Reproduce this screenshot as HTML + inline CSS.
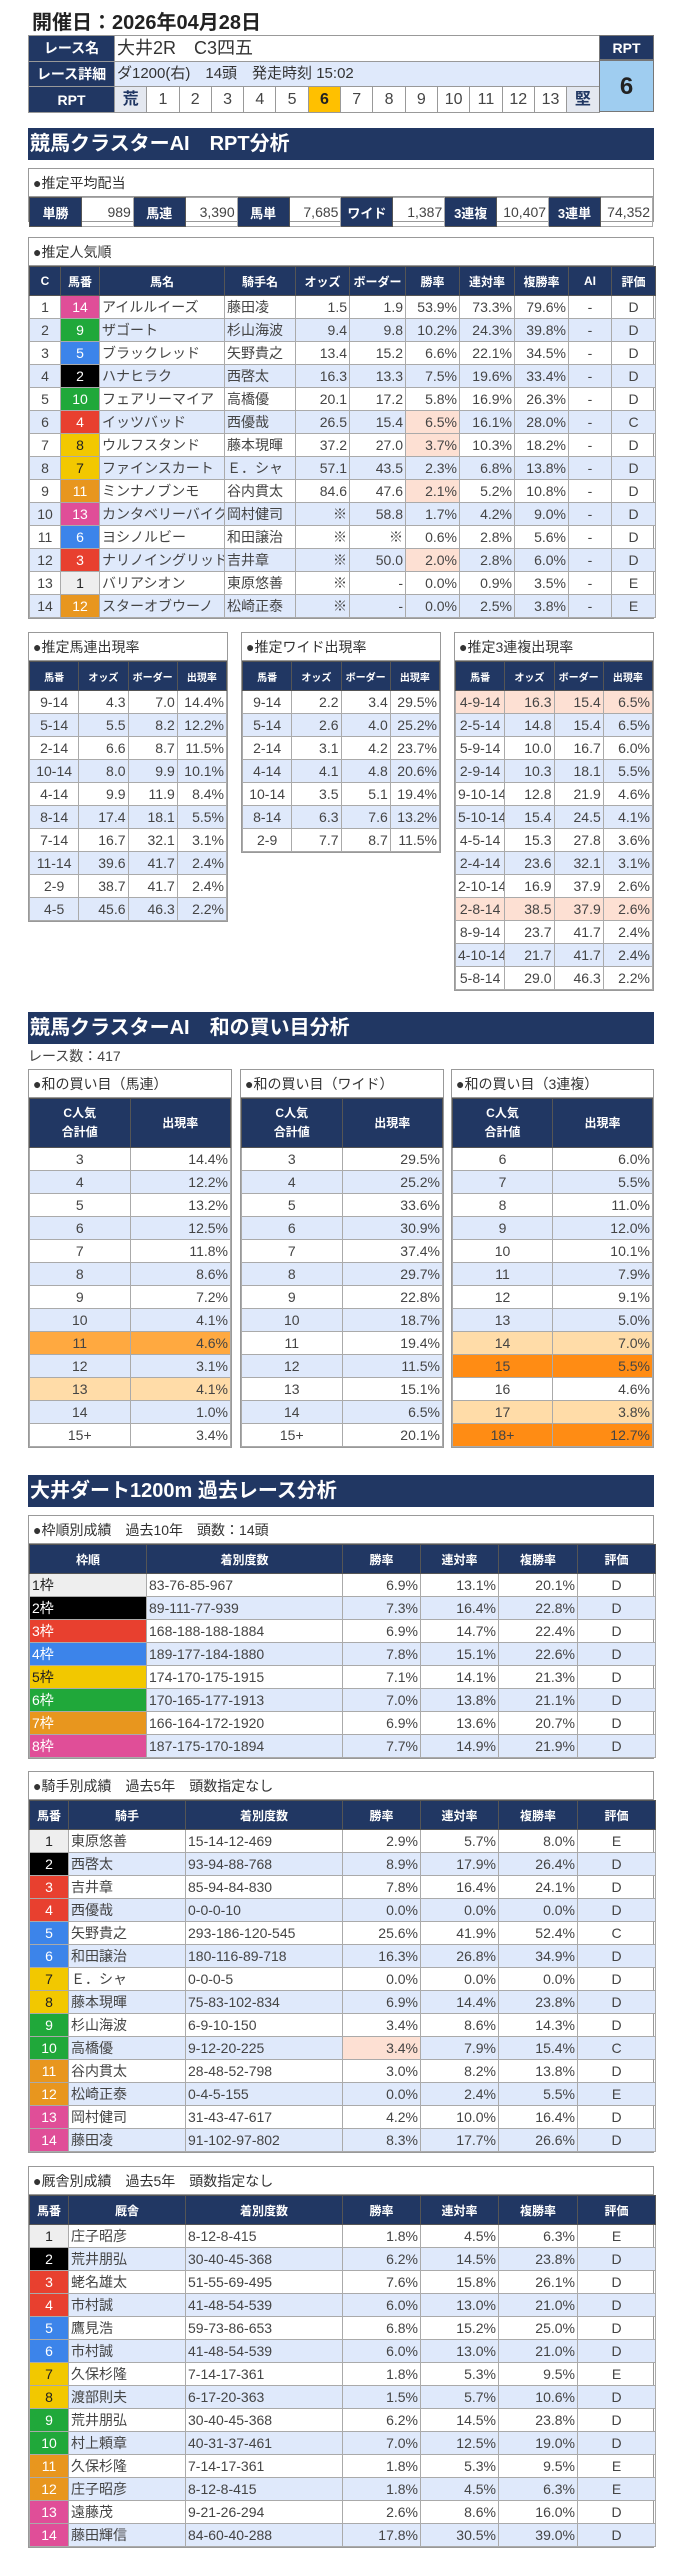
<!DOCTYPE html>
<html><head><meta charset="utf-8">
<style>
*{box-sizing:border-box;margin:0;padding:0}
body{width:678px;height:2560px;background:#fff;position:relative;font-family:"Liberation Sans","Noto Sans CJK JP",sans-serif;color:#333;overflow:hidden}
.abs{position:absolute}
.sec{position:absolute;left:28px;width:626px;height:32px;background:#213763;color:#fff;font-weight:bold;font-size:20px;line-height:32px;padding-left:2px;white-space:nowrap}
.box{position:absolute;border:1px solid #999;background:#fff}
.ttl{height:28px;line-height:28px;font-size:14px;padding-left:4px;border-bottom:1px solid #999;white-space:nowrap;color:#333}
table{border-collapse:collapse;table-layout:fixed;width:100%}
td{height:23px;line-height:22px;border:1px solid #aaa;padding:0 2px;font-size:14px;white-space:nowrap;overflow:hidden;color:#444}
th{background:#213763;color:#fff;font-size:12px;height:29px;border:1px solid #555;font-weight:bold;white-space:nowrap;overflow:hidden}
tbody tr:nth-child(even) td{background:#dfe9fb}
.r{text-align:right}.c{text-align:center}.l{text-align:left}
td.hl,tbody tr:nth-child(even) td.hl{background:#fde0d3}
td.f1{background:#eee!important;color:#222;text-align:center}
td.f2{background:#000!important;color:#fff;text-align:center}
td.f3{background:#e8402f!important;color:#fff;text-align:center}
td.f4{background:#3c84ea!important;color:#fff;text-align:center}
td.f5{background:#f2c800!important;color:#222;text-align:center}
td.f6{background:#20a83a!important;color:#fff;text-align:center}
td.f7{background:#e8961e!important;color:#fff;text-align:center}
td.f8{background:#e04e98!important;color:#fff;text-align:center}
td.fl{text-align:left!important}
td.o1{background:#ffa940!important}
td.o2{background:#ffdca8!important}
td.o3{background:#ff8c14!important}
.race td{height:25.7px;font-size:16px;border:1px solid #999}
.wa th{height:49px;line-height:19px}
</style></head><body>

<div class="abs" style="left:32px;top:6px;font-size:20px;font-weight:bold;color:#222">開催日：2026年04月28日</div>

<div class="abs" style="left:28px;top:35px;width:571px">
<table class="race" style="border:1px solid #777">
<colgroup><col style="width:86px"><col span="15" style="width:32.3px"></colgroup>
<tr><td style="background:#213763;color:#fff;font-weight:bold;text-align:center;font-size:14px">レース名</td><td colspan="15" style="font-size:18px;color:#333">大井2R　C3四五</td></tr>
<tr><td style="background:#213763;color:#fff;font-weight:bold;text-align:center;font-size:14px">レース詳細</td><td colspan="15" style="font-size:15px;color:#333">ダ1200(右)　14頭　発走時刻 15:02</td></tr>
<tr><td style="background:#213763;color:#fff;font-weight:bold;text-align:center;font-size:14px">RPT</td><td class="c" style="background:#e4e8f0;color:#213763;font-weight:bold">荒</td><td class="c">1</td><td class="c">2</td><td class="c">3</td><td class="c">4</td><td class="c">5</td><td class="c" style="background:#ffc000;font-weight:bold;color:#222">6</td><td class="c">7</td><td class="c">8</td><td class="c">9</td><td class="c">10</td><td class="c">11</td><td class="c">12</td><td class="c">13</td><td class="c" style="background:#e4e8f0;color:#213763;font-weight:bold">堅</td></tr>
</table></div>
<div class="abs" style="left:599px;top:35px;width:55px;height:25px;background:#213763;color:#fff;font-weight:bold;font-size:14px;text-align:center;line-height:25px;border:1px solid #777">RPT</div>
<div class="abs" style="left:599px;top:60px;width:55px;height:52px;background:#9fcdf0;color:#222;font-weight:bold;font-size:24px;text-align:center;line-height:52px;border:1px solid #777">6</div>

<div class="sec" style="top:128px">競馬クラスターAI　RPT分析</div>

<div class="box" style="left:28px;top:168px;width:626px;height:54px">
<div class="ttl">●推定平均配当</div>
<table><tr>
<th style="height:24px;font-size:13px">単勝</th><td class="r">989</td><th style="font-size:13px">馬連</th><td class="r">3,390</td><th style="font-size:13px">馬単</th><td class="r">7,685</td><th style="font-size:13px">ワイド</th><td class="r">1,387</td><th style="font-size:13px">3連複</th><td class="r">10,407</td><th style="font-size:13px">3連単</th><td class="r">74,352</td>
</tr></table></div>

<div class="box" style="left:28px;top:237px;width:626px">
<div class="ttl">●推定人気順</div>
<table>
<colgroup><col style="width:31px"><col style="width:39px"><col style="width:125px"><col style="width:71px"><col style="width:54px"><col style="width:56px"><col style="width:54px"><col style="width:55px"><col style="width:54px"><col style="width:43px"><col style="width:44px"></colgroup>
<thead><tr><th>C</th><th>馬番</th><th>馬名</th><th>騎手名</th><th>オッズ</th><th>ボーダー</th><th>勝率</th><th>連対率</th><th>複勝率</th><th>AI</th><th>評価</th></tr></thead>
<tbody>
<tr><td class="c">1</td><td class="f8">14</td><td>アイルルイーズ</td><td>藤田凌</td><td class="r">1.5</td><td class="r">1.9</td><td class="r">53.9%</td><td class="r">73.3%</td><td class="r">79.6%</td><td class="c">-</td><td class="c">D</td></tr>
<tr><td class="c">2</td><td class="f6">9</td><td>ザゴート</td><td>杉山海波</td><td class="r">9.4</td><td class="r">9.8</td><td class="r">10.2%</td><td class="r">24.3%</td><td class="r">39.8%</td><td class="c">-</td><td class="c">D</td></tr>
<tr><td class="c">3</td><td class="f4">5</td><td>ブラックレッド</td><td>矢野貴之</td><td class="r">13.4</td><td class="r">15.2</td><td class="r">6.6%</td><td class="r">22.1%</td><td class="r">34.5%</td><td class="c">-</td><td class="c">D</td></tr>
<tr><td class="c">4</td><td class="f2">2</td><td>ハナヒラク</td><td>西啓太</td><td class="r">16.3</td><td class="r">13.3</td><td class="r">7.5%</td><td class="r">19.6%</td><td class="r">33.4%</td><td class="c">-</td><td class="c">D</td></tr>
<tr><td class="c">5</td><td class="f6">10</td><td>フェアリーマイア</td><td>高橋優</td><td class="r">20.1</td><td class="r">17.2</td><td class="r">5.8%</td><td class="r">16.9%</td><td class="r">26.3%</td><td class="c">-</td><td class="c">D</td></tr>
<tr><td class="c">6</td><td class="f3">4</td><td>イッツバッド</td><td>西優哉</td><td class="r">26.5</td><td class="r">15.4</td><td class="r hl">6.5%</td><td class="r">16.1%</td><td class="r">28.0%</td><td class="c">-</td><td class="c">C</td></tr>
<tr><td class="c">7</td><td class="f5">8</td><td>ウルフスタンド</td><td>藤本現暉</td><td class="r">37.2</td><td class="r">27.0</td><td class="r hl">3.7%</td><td class="r">10.3%</td><td class="r">18.2%</td><td class="c">-</td><td class="c">D</td></tr>
<tr><td class="c">8</td><td class="f5">7</td><td>ファインスカート</td><td>Ｅ．シャ</td><td class="r">57.1</td><td class="r">43.5</td><td class="r">2.3%</td><td class="r">6.8%</td><td class="r">13.8%</td><td class="c">-</td><td class="c">D</td></tr>
<tr><td class="c">9</td><td class="f7">11</td><td>ミンナノブンモ</td><td>谷内貫太</td><td class="r">84.6</td><td class="r">47.6</td><td class="r hl">2.1%</td><td class="r">5.2%</td><td class="r">10.8%</td><td class="c">-</td><td class="c">D</td></tr>
<tr><td class="c">10</td><td class="f8">13</td><td>カンタベリーバイク</td><td>岡村健司</td><td class="r">※</td><td class="r">58.8</td><td class="r">1.7%</td><td class="r">4.2%</td><td class="r">9.0%</td><td class="c">-</td><td class="c">D</td></tr>
<tr><td class="c">11</td><td class="f4">6</td><td>ヨシノルビー</td><td>和田譲治</td><td class="r">※</td><td class="r">※</td><td class="r">0.6%</td><td class="r">2.8%</td><td class="r">5.6%</td><td class="c">-</td><td class="c">D</td></tr>
<tr><td class="c">12</td><td class="f3">3</td><td>ナリノイングリッド</td><td>吉井章</td><td class="r">※</td><td class="r">50.0</td><td class="r hl">2.0%</td><td class="r">2.8%</td><td class="r">6.0%</td><td class="c">-</td><td class="c">D</td></tr>
<tr><td class="c">13</td><td class="f1">1</td><td>バリアシオン</td><td>東原悠善</td><td class="r">※</td><td class="r">-</td><td class="r">0.0%</td><td class="r">0.9%</td><td class="r">3.5%</td><td class="c">-</td><td class="c">E</td></tr>
<tr><td class="c">14</td><td class="f7">12</td><td>スターオブウーノ</td><td>松崎正泰</td><td class="r">※</td><td class="r">-</td><td class="r">0.0%</td><td class="r">2.5%</td><td class="r">3.8%</td><td class="c">-</td><td class="c">E</td></tr>
</tbody></table></div>

<!-- three tables -->
<div class="box" style="left:28px;top:632px;width:200px">
<div class="ttl">●推定馬連出現率</div>
<table><thead><tr><th style="height:20px;font-size:10px">馬番</th><th style="font-size:10px">オッズ</th><th style="font-size:10px">ボーダー</th><th style="font-size:10px">出現率</th></tr></thead>
<tbody>
<tr><td class="c">9-14</td><td class="r">4.3</td><td class="r">7.0</td><td class="r">14.4%</td></tr>
<tr><td class="c">5-14</td><td class="r">5.5</td><td class="r">8.2</td><td class="r">12.2%</td></tr>
<tr><td class="c">2-14</td><td class="r">6.6</td><td class="r">8.7</td><td class="r">11.5%</td></tr>
<tr><td class="c">10-14</td><td class="r">8.0</td><td class="r">9.9</td><td class="r">10.1%</td></tr>
<tr><td class="c">4-14</td><td class="r">9.9</td><td class="r">11.9</td><td class="r">8.4%</td></tr>
<tr><td class="c">8-14</td><td class="r">17.4</td><td class="r">18.1</td><td class="r">5.5%</td></tr>
<tr><td class="c">7-14</td><td class="r">16.7</td><td class="r">32.1</td><td class="r">3.1%</td></tr>
<tr><td class="c">11-14</td><td class="r">39.6</td><td class="r">41.7</td><td class="r">2.4%</td></tr>
<tr><td class="c">2-9</td><td class="r">38.7</td><td class="r">41.7</td><td class="r">2.4%</td></tr>
<tr><td class="c">4-5</td><td class="r">45.6</td><td class="r">46.3</td><td class="r">2.2%</td></tr>
</tbody></table></div>

<div class="box" style="left:241px;top:632px;width:200px">
<div class="ttl">●推定ワイド出現率</div>
<table><thead><tr><th style="height:20px;font-size:10px">馬番</th><th style="font-size:10px">オッズ</th><th style="font-size:10px">ボーダー</th><th style="font-size:10px">出現率</th></tr></thead>
<tbody>
<tr><td class="c">9-14</td><td class="r">2.2</td><td class="r">3.4</td><td class="r">29.5%</td></tr>
<tr><td class="c">5-14</td><td class="r">2.6</td><td class="r">4.0</td><td class="r">25.2%</td></tr>
<tr><td class="c">2-14</td><td class="r">3.1</td><td class="r">4.2</td><td class="r">23.7%</td></tr>
<tr><td class="c">4-14</td><td class="r">4.1</td><td class="r">4.8</td><td class="r">20.6%</td></tr>
<tr><td class="c">10-14</td><td class="r">3.5</td><td class="r">5.1</td><td class="r">19.4%</td></tr>
<tr><td class="c">8-14</td><td class="r">6.3</td><td class="r">7.6</td><td class="r">13.2%</td></tr>
<tr><td class="c">2-9</td><td class="r">7.7</td><td class="r">8.7</td><td class="r">11.5%</td></tr>
</tbody></table></div>

<div class="box" style="left:454px;top:632px;width:200px">
<div class="ttl">●推定3連複出現率</div>
<table><thead><tr><th style="height:20px;font-size:10px">馬番</th><th style="font-size:10px">オッズ</th><th style="font-size:10px">ボーダー</th><th style="font-size:10px">出現率</th></tr></thead>
<tbody>
<tr><td class="c hl">4-9-14</td><td class="r hl">16.3</td><td class="r hl">15.4</td><td class="r hl">6.5%</td></tr>
<tr><td class="c">2-5-14</td><td class="r">14.8</td><td class="r">15.4</td><td class="r">6.5%</td></tr>
<tr><td class="c">5-9-14</td><td class="r">10.0</td><td class="r">16.7</td><td class="r">6.0%</td></tr>
<tr><td class="c">2-9-14</td><td class="r">10.3</td><td class="r">18.1</td><td class="r">5.5%</td></tr>
<tr><td class="c">9-10-14</td><td class="r">12.8</td><td class="r">21.9</td><td class="r">4.6%</td></tr>
<tr><td class="c">5-10-14</td><td class="r">15.4</td><td class="r">24.5</td><td class="r">4.1%</td></tr>
<tr><td class="c">4-5-14</td><td class="r">15.3</td><td class="r">27.8</td><td class="r">3.6%</td></tr>
<tr><td class="c">2-4-14</td><td class="r">23.6</td><td class="r">32.1</td><td class="r">3.1%</td></tr>
<tr><td class="c">2-10-14</td><td class="r">16.9</td><td class="r">37.9</td><td class="r">2.6%</td></tr>
<tr><td class="c hl">2-8-14</td><td class="r hl">38.5</td><td class="r hl">37.9</td><td class="r hl">2.6%</td></tr>
<tr><td class="c">8-9-14</td><td class="r">23.7</td><td class="r">41.7</td><td class="r">2.4%</td></tr>
<tr><td class="c">4-10-14</td><td class="r">21.7</td><td class="r">41.7</td><td class="r">2.4%</td></tr>
<tr><td class="c">5-8-14</td><td class="r">29.0</td><td class="r">46.3</td><td class="r">2.2%</td></tr>
</tbody></table></div>

<div class="sec" style="top:1012px">競馬クラスターAI　和の買い目分析</div>
<div class="abs" style="left:28px;top:1046px;font-size:14px;color:#444">レース数：417</div>

<div class="box wa" style="left:28px;top:1069px;width:204px">
<div class="ttl">●和の買い目（馬連）</div>
<table><thead><tr><th>C人気<br>合計値</th><th>出現率</th></tr></thead><tbody>
<tr><td class="c">3</td><td class="r">14.4%</td></tr>
<tr><td class="c">4</td><td class="r">12.2%</td></tr>
<tr><td class="c">5</td><td class="r">13.2%</td></tr>
<tr><td class="c">6</td><td class="r">12.5%</td></tr>
<tr><td class="c">7</td><td class="r">11.8%</td></tr>
<tr><td class="c">8</td><td class="r">8.6%</td></tr>
<tr><td class="c">9</td><td class="r">7.2%</td></tr>
<tr><td class="c">10</td><td class="r">4.1%</td></tr>
<tr><td class="c o1">11</td><td class="r o1">4.6%</td></tr>
<tr><td class="c">12</td><td class="r">3.1%</td></tr>
<tr><td class="c o2">13</td><td class="r o2">4.1%</td></tr>
<tr><td class="c">14</td><td class="r">1.0%</td></tr>
<tr><td class="c">15+</td><td class="r">3.4%</td></tr>
</tbody></table></div>

<div class="box wa" style="left:240px;top:1069px;width:204px">
<div class="ttl">●和の買い目（ワイド）</div>
<table><thead><tr><th>C人気<br>合計値</th><th>出現率</th></tr></thead><tbody>
<tr><td class="c">3</td><td class="r">29.5%</td></tr>
<tr><td class="c">4</td><td class="r">25.2%</td></tr>
<tr><td class="c">5</td><td class="r">33.6%</td></tr>
<tr><td class="c">6</td><td class="r">30.9%</td></tr>
<tr><td class="c">7</td><td class="r">37.4%</td></tr>
<tr><td class="c">8</td><td class="r">29.7%</td></tr>
<tr><td class="c">9</td><td class="r">22.8%</td></tr>
<tr><td class="c">10</td><td class="r">18.7%</td></tr>
<tr><td class="c">11</td><td class="r">19.4%</td></tr>
<tr><td class="c">12</td><td class="r">11.5%</td></tr>
<tr><td class="c">13</td><td class="r">15.1%</td></tr>
<tr><td class="c">14</td><td class="r">6.5%</td></tr>
<tr><td class="c">15+</td><td class="r">20.1%</td></tr>
</tbody></table></div>

<div class="box wa" style="left:451px;top:1069px;width:203px">
<div class="ttl">●和の買い目（3連複）</div>
<table><thead><tr><th>C人気<br>合計値</th><th>出現率</th></tr></thead><tbody>
<tr><td class="c">6</td><td class="r">6.0%</td></tr>
<tr><td class="c">7</td><td class="r">5.5%</td></tr>
<tr><td class="c">8</td><td class="r">11.0%</td></tr>
<tr><td class="c">9</td><td class="r">12.0%</td></tr>
<tr><td class="c">10</td><td class="r">10.1%</td></tr>
<tr><td class="c">11</td><td class="r">7.9%</td></tr>
<tr><td class="c">12</td><td class="r">9.1%</td></tr>
<tr><td class="c">13</td><td class="r">5.0%</td></tr>
<tr><td class="c o2">14</td><td class="r o2">7.0%</td></tr>
<tr><td class="c o3">15</td><td class="r o3">5.5%</td></tr>
<tr><td class="c">16</td><td class="r">4.6%</td></tr>
<tr><td class="c o2">17</td><td class="r o2">3.8%</td></tr>
<tr><td class="c o3">18+</td><td class="r o3">12.7%</td></tr>
</tbody></table></div>

<div class="sec" style="top:1475px">大井ダート1200m 過去レース分析</div>

<div class="box" style="left:28px;top:1515px;width:626px">
<div class="ttl">●枠順別成績　過去10年　頭数：14頭</div>
<table><colgroup><col style="width:117px"><col style="width:196px"><col style="width:78px"><col style="width:78px"><col style="width:79px"><col style="width:78px"></colgroup>
<thead><tr><th>枠順</th><th>着別度数</th><th>勝率</th><th>連対率</th><th>複勝率</th><th>評価</th></tr></thead><tbody>
<tr><td class="f1 fl">1枠</td><td>83-76-85-967</td><td class="r">6.9%</td><td class="r">13.1%</td><td class="r">20.1%</td><td class="c">D</td></tr>
<tr><td class="f2 fl">2枠</td><td>89-111-77-939</td><td class="r">7.3%</td><td class="r">16.4%</td><td class="r">22.8%</td><td class="c">D</td></tr>
<tr><td class="f3 fl">3枠</td><td>168-188-188-1884</td><td class="r">6.9%</td><td class="r">14.7%</td><td class="r">22.4%</td><td class="c">D</td></tr>
<tr><td class="f4 fl">4枠</td><td>189-177-184-1880</td><td class="r">7.8%</td><td class="r">15.1%</td><td class="r">22.6%</td><td class="c">D</td></tr>
<tr><td class="f5 fl">5枠</td><td>174-170-175-1915</td><td class="r">7.1%</td><td class="r">14.1%</td><td class="r">21.3%</td><td class="c">D</td></tr>
<tr><td class="f6 fl">6枠</td><td>170-165-177-1913</td><td class="r">7.0%</td><td class="r">13.8%</td><td class="r">21.1%</td><td class="c">D</td></tr>
<tr><td class="f7 fl">7枠</td><td>166-164-172-1920</td><td class="r">6.9%</td><td class="r">13.6%</td><td class="r">20.7%</td><td class="c">D</td></tr>
<tr><td class="f8 fl">8枠</td><td>187-175-170-1894</td><td class="r">7.7%</td><td class="r">14.9%</td><td class="r">21.9%</td><td class="c">D</td></tr>
</tbody></table></div>

<div class="box" style="left:28px;top:1771px;width:626px">
<div class="ttl">●騎手別成績　過去5年　頭数指定なし</div>
<table><colgroup><col style="width:39px"><col style="width:117px"><col style="width:157px"><col style="width:78px"><col style="width:78px"><col style="width:79px"><col style="width:78px"></colgroup>
<thead><tr><th>馬番</th><th>騎手</th><th>着別度数</th><th>勝率</th><th>連対率</th><th>複勝率</th><th>評価</th></tr></thead><tbody>
<tr><td class="f1">1</td><td>東原悠善</td><td>15-14-12-469</td><td class="r">2.9%</td><td class="r">5.7%</td><td class="r">8.0%</td><td class="c">E</td></tr>
<tr><td class="f2">2</td><td>西啓太</td><td>93-94-88-768</td><td class="r">8.9%</td><td class="r">17.9%</td><td class="r">26.4%</td><td class="c">D</td></tr>
<tr><td class="f3">3</td><td>吉井章</td><td>85-94-84-830</td><td class="r">7.8%</td><td class="r">16.4%</td><td class="r">24.1%</td><td class="c">D</td></tr>
<tr><td class="f3">4</td><td>西優哉</td><td>0-0-0-10</td><td class="r">0.0%</td><td class="r">0.0%</td><td class="r">0.0%</td><td class="c">D</td></tr>
<tr><td class="f4">5</td><td>矢野貴之</td><td>293-186-120-545</td><td class="r">25.6%</td><td class="r">41.9%</td><td class="r">52.4%</td><td class="c">C</td></tr>
<tr><td class="f4">6</td><td>和田譲治</td><td>180-116-89-718</td><td class="r">16.3%</td><td class="r">26.8%</td><td class="r">34.9%</td><td class="c">D</td></tr>
<tr><td class="f5">7</td><td>Ｅ．シャ</td><td>0-0-0-5</td><td class="r">0.0%</td><td class="r">0.0%</td><td class="r">0.0%</td><td class="c">D</td></tr>
<tr><td class="f5">8</td><td>藤本現暉</td><td>75-83-102-834</td><td class="r">6.9%</td><td class="r">14.4%</td><td class="r">23.8%</td><td class="c">D</td></tr>
<tr><td class="f6">9</td><td>杉山海波</td><td>6-9-10-150</td><td class="r">3.4%</td><td class="r">8.6%</td><td class="r">14.3%</td><td class="c">D</td></tr>
<tr><td class="f6">10</td><td>高橋優</td><td>9-12-20-225</td><td class="r hl">3.4%</td><td class="r">7.9%</td><td class="r">15.4%</td><td class="c">C</td></tr>
<tr><td class="f7">11</td><td>谷内貫太</td><td>28-48-52-798</td><td class="r">3.0%</td><td class="r">8.2%</td><td class="r">13.8%</td><td class="c">D</td></tr>
<tr><td class="f7">12</td><td>松崎正泰</td><td>0-4-5-155</td><td class="r">0.0%</td><td class="r">2.4%</td><td class="r">5.5%</td><td class="c">E</td></tr>
<tr><td class="f8">13</td><td>岡村健司</td><td>31-43-47-617</td><td class="r">4.2%</td><td class="r">10.0%</td><td class="r">16.4%</td><td class="c">D</td></tr>
<tr><td class="f8">14</td><td>藤田凌</td><td>91-102-97-802</td><td class="r">8.3%</td><td class="r">17.7%</td><td class="r">26.6%</td><td class="c">D</td></tr>
</tbody></table></div>

<div class="box" style="left:28px;top:2166px;width:626px">
<div class="ttl">●厩舎別成績　過去5年　頭数指定なし</div>
<table><colgroup><col style="width:39px"><col style="width:117px"><col style="width:157px"><col style="width:78px"><col style="width:78px"><col style="width:79px"><col style="width:78px"></colgroup>
<thead><tr><th>馬番</th><th>厩舎</th><th>着別度数</th><th>勝率</th><th>連対率</th><th>複勝率</th><th>評価</th></tr></thead><tbody>
<tr><td class="f1">1</td><td>庄子昭彦</td><td>8-12-8-415</td><td class="r">1.8%</td><td class="r">4.5%</td><td class="r">6.3%</td><td class="c">E</td></tr>
<tr><td class="f2">2</td><td>荒井朋弘</td><td>30-40-45-368</td><td class="r">6.2%</td><td class="r">14.5%</td><td class="r">23.8%</td><td class="c">D</td></tr>
<tr><td class="f3">3</td><td>蛯名雄太</td><td>51-55-69-495</td><td class="r">7.6%</td><td class="r">15.8%</td><td class="r">26.1%</td><td class="c">D</td></tr>
<tr><td class="f3">4</td><td>市村誠</td><td>41-48-54-539</td><td class="r">6.0%</td><td class="r">13.0%</td><td class="r">21.0%</td><td class="c">D</td></tr>
<tr><td class="f4">5</td><td>鷹見浩</td><td>59-73-86-653</td><td class="r">6.8%</td><td class="r">15.2%</td><td class="r">25.0%</td><td class="c">D</td></tr>
<tr><td class="f4">6</td><td>市村誠</td><td>41-48-54-539</td><td class="r">6.0%</td><td class="r">13.0%</td><td class="r">21.0%</td><td class="c">D</td></tr>
<tr><td class="f5">7</td><td>久保杉隆</td><td>7-14-17-361</td><td class="r">1.8%</td><td class="r">5.3%</td><td class="r">9.5%</td><td class="c">E</td></tr>
<tr><td class="f5">8</td><td>渡部則夫</td><td>6-17-20-363</td><td class="r">1.5%</td><td class="r">5.7%</td><td class="r">10.6%</td><td class="c">D</td></tr>
<tr><td class="f6">9</td><td>荒井朋弘</td><td>30-40-45-368</td><td class="r">6.2%</td><td class="r">14.5%</td><td class="r">23.8%</td><td class="c">D</td></tr>
<tr><td class="f6">10</td><td>村上頼章</td><td>40-31-37-461</td><td class="r">7.0%</td><td class="r">12.5%</td><td class="r">19.0%</td><td class="c">D</td></tr>
<tr><td class="f7">11</td><td>久保杉隆</td><td>7-14-17-361</td><td class="r">1.8%</td><td class="r">5.3%</td><td class="r">9.5%</td><td class="c">E</td></tr>
<tr><td class="f7">12</td><td>庄子昭彦</td><td>8-12-8-415</td><td class="r">1.8%</td><td class="r">4.5%</td><td class="r">6.3%</td><td class="c">E</td></tr>
<tr><td class="f8">13</td><td>遠藤茂</td><td>9-21-26-294</td><td class="r">2.6%</td><td class="r">8.6%</td><td class="r">16.0%</td><td class="c">D</td></tr>
<tr><td class="f8">14</td><td>藤田輝信</td><td>84-60-40-288</td><td class="r">17.8%</td><td class="r">30.5%</td><td class="r">39.0%</td><td class="c">D</td></tr>
</tbody></table></div>

</body></html>
